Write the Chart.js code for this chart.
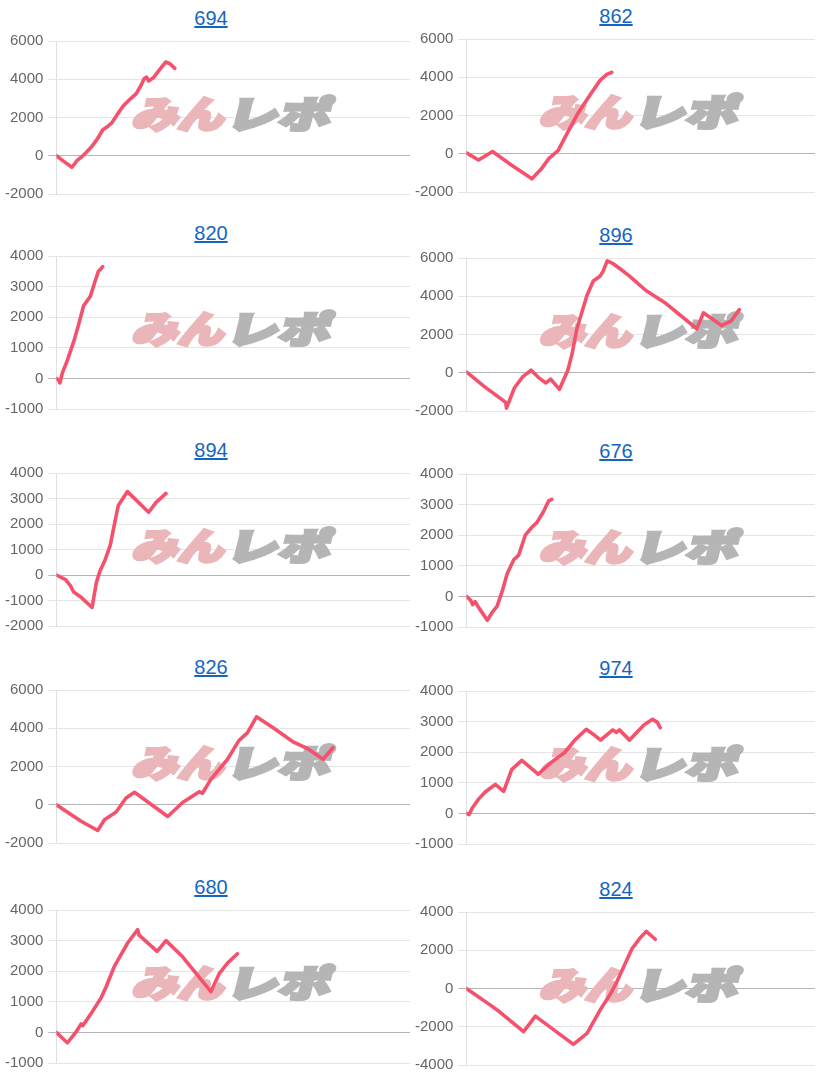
<!DOCTYPE html>
<html><head><meta charset="utf-8">
<script src="https://cdn.jsdelivr.net/npm/chart.js@4/dist/chart.umd.min.js"></script>
<style>
html,body{margin:0;padding:0;background:#fff;width:818px;height:1085px;overflow:hidden;font-family:"Liberation Sans",Arial,sans-serif;}
.ttl{position:absolute;width:200px;text-align:center;font-size:20px;line-height:24px;}
.ttl a{color:#1565c0;text-decoration:underline;}
canvas{position:absolute;}
</style></head><body>
<script>
// ---- data ----
const titles = ['694','862','820','896','894','676','826','974','680','824'];
const yMins  = [-2000,-2000,-1000,-2000,-2000,-1000,-2000,-1000,-1000,-4000];
const yMaxs  = [6000,6000,4000,6000,4000,4000,6000,4000,4000,4000];
const ySteps = [2000,2000,1000,2000,1000,1000,2000,1000,1000,2000];

const p694_x = [0,2,4.4,5.8,7.2,8.5,10,11.3,13.2,14.3,15.6,17.2,18.9,20.8,22.6,24.0,24.8,25.5,26.1,27.4,29.2,30.9,32.1,33.5];
const p694_y = [0,-280,-600,-260,-50,180,480,800,1370,1500,1700,2150,2600,2950,3250,3700,4030,4110,3910,4075,4500,4900,4810,4570];
const p862_x = [0,3.5,7.5,13,18.8,21.4,23.7,26.3,28.9,31.8,35.6,38.4,40.3,41.7];
const p862_y = [50,-325,115,-600,-1310,-815,-245,165,1065,2050,3115,3850,4145,4260];
const p820_x = [0,0.6,1.0,1.7,3.1,4.9,6.3,7.7,9.6,11.0,11.9,12.6,13.1];
const p820_y = [0,-60,-150,180,590,1200,1765,2375,2680,3190,3500,3580,3650];
const p896_x = [0,5,11.3,11.5,13.8,16.2,18.6,20.9,22.8,24.2,26.7,29.1,30.3,31.7,34.6,36.4,38.3,39.2,40.4,42.1,44,46.8,51.5,57.2,66.1,68.0,73.2,76.0,78.3];
const p896_y = [50,-700,-1550,-1850,-783,-200,133,-283,-533,-333,-867,133,967,2300,4050,4800,5050,5300,5850,5700,5450,5050,4300,3633,2300,3133,2467,2717,3300];
const p894_x = [0,2.6,4.0,4.9,6.8,10.1,11.3,12.4,13.8,15.2,17.5,20.1,26.1,28.2,31.0];
const p894_y = [0,-180,-424,-667,-850,-1273,-300,180,600,1150,2730,3270,2460,2850,3200];
const p676_x = [0,1.2,1.8,2.5,3.6,6.0,7.4,8.8,10.3,11.7,13.6,15.0,16.9,18.8,20.2,22.1,23.6,24.5];
const p676_y = [0,-120,-270,-170,-375,-780,-525,-325,180,740,1195,1350,2000,2260,2410,2765,3120,3170];
const p826_x = [0,7.0,11.7,13.6,16.9,19.7,22.1,31.5,35.7,40.4,41.3,43.7,48.4,51.6,54.0,56.6,61.5,67.1,70.9,75.4,78.2];
const p826_y = [0,-860,-1345,-780,-375,355,650,-615,115,680,600,1330,2380,3355,3760,4600,4000,3270,2950,2380,2980];
const p974_x = [0,0.8,1.6,3.5,5.4,8.3,10.7,13.0,15.9,20.6,24.0,28.2,31.1,34.4,36.8,38.5,42.0,43.0,43.9,46.8,51.0,53.4,54.8,55.6];
const p974_y = [0,-40,160,467,700,945,720,1430,1735,1280,1635,1990,2395,2750,2550,2395,2730,2650,2730,2395,2900,3075,2975,2800];
const p680_x = [0,3.1,5.6,7.0,7.5,9.9,12.7,14.1,16.4,20.2,23.0,23.4,28.5,31.0,35.7,43.7,46.0,48.4,51.2];
const p680_y = [0,-340,20,275,225,630,1140,1500,2160,2930,3360,3180,2650,3000,2470,1330,1910,2265,2570];
const p824_x = [0,6.9,9.7,16.4,19.8,22.2,30.7,34.6,38.4,41.3,43.2,47.5,49.9,51.6,54.2];
const p824_y = [0,-870,-1245,-2260,-1445,-1770,-2920,-2345,-1115,-295,360,2080,2660,2985,2575];

const seriesX = [p694_x,p862_x,p820_x,p896_x,p894_x,p676_x,p826_x,p974_x,p680_x,p824_x];
const seriesY = [p694_y,p862_y,p820_y,p896_y,p894_y,p676_y,p826_y,p974_y,p680_y,p824_y];

// ---- layout ----
const plotTops = [41,39,256,258,473,474,690,691,910,912];
const PLOT_H = 163;

const watermark = {
  id:'wm',
  beforeDatasetsDraw(chart){
    const ctx = chart.ctx, a = chart.chartArea;
    const cx = (a.left+a.right)/2, cy = a.top+71;
    ctx.save();
    ctx.font = '900 44px "Noto Sans CJK JP"';
    ctx.textBaseline = 'middle';
    const drawPart = (txt, x0, w, color) => {
      const m = ctx.measureText(txt).width;
      ctx.save();
      ctx.translate(x0, cy);
      ctx.transform(1,0,-0.25,1,0,0);
      ctx.scale(w/m, 0.84);
      ctx.fillStyle = color;
      ctx.strokeStyle = color;
      ctx.lineWidth = 4;
      ctx.lineJoin = 'miter';
      ctx.fillText(txt, 0, 2);
      ctx.strokeText(txt, 0, 2);
      ctx.restore();
    };
    drawPart('みん', cx-98, 92, '#eab6ba');
    drawPart('レポ', cx-4, 104, '#b5b5b5');
    ctx.restore();
  }
};

for (let i=0;i<10;i++){
  const col = i%2;
  const left = col===0 ? 0 : 410;
  const w = col===0 ? 410 : 408;
  const top = plotTops[i];
  const t = document.createElement('div');
  t.className='ttl';
  t.style.left = (col===0 ? 211 : 616) - 100 + 'px';
  t.style.top = (top-23-12)+'px';
  t.innerHTML = '<a href="#">'+titles[i]+'</a>';
  document.body.appendChild(t);
  const c = document.createElement('canvas');
  c.width = w; c.height = 181;
  c.style.left = left+'px';
  c.style.top = (top-9)+'px';
  document.body.appendChild(c);
  const pts = seriesX[i].map((x,k)=>({x:x,y:seriesY[i][k]}));
  const chart = new Chart(c, {
    type:'line',
    data:{datasets:[{data:pts, borderColor:'rgb(244,82,108)', borderWidth:3.6, pointRadius:0, tension:0, fill:false, borderJoinStyle:'round', borderCapStyle:'round'}]},
    options:{
      responsive:false, animation:false, devicePixelRatio:1,
      layout:{padding:{left:0,right:col===0?0:3,top:0,bottom:0}},
      plugins:{legend:{display:false},tooltip:{enabled:false},title:{display:false}},
      scales:{
        x:{type:'linear',min:0,max:100,display:false},
        y:{min:yMins[i],max:yMaxs[i],
           ticks:{stepSize:ySteps[i],color:'#666',font:{size:15,family:'"Liberation Sans", Arial, sans-serif'},padding:5,
                  callback:(v)=>String(v)},
           grid:{color:(ctx)=> (ctx.tick && ctx.tick.value===0) ? '#b5b5b5' : '#e5e5e5', tickLength:8},
           border:{color:'#e0e0e0'}}
      }
    },
    plugins:[watermark]
  });
  const a = chart.chartArea;
  const dh = PLOT_H - (a.bottom - a.top);
  if (dh !== 0){ chart.resize(w, 181+dh); }
  c.style.top = (top - chart.chartArea.top)+'px';
}
</script>
</body></html>
